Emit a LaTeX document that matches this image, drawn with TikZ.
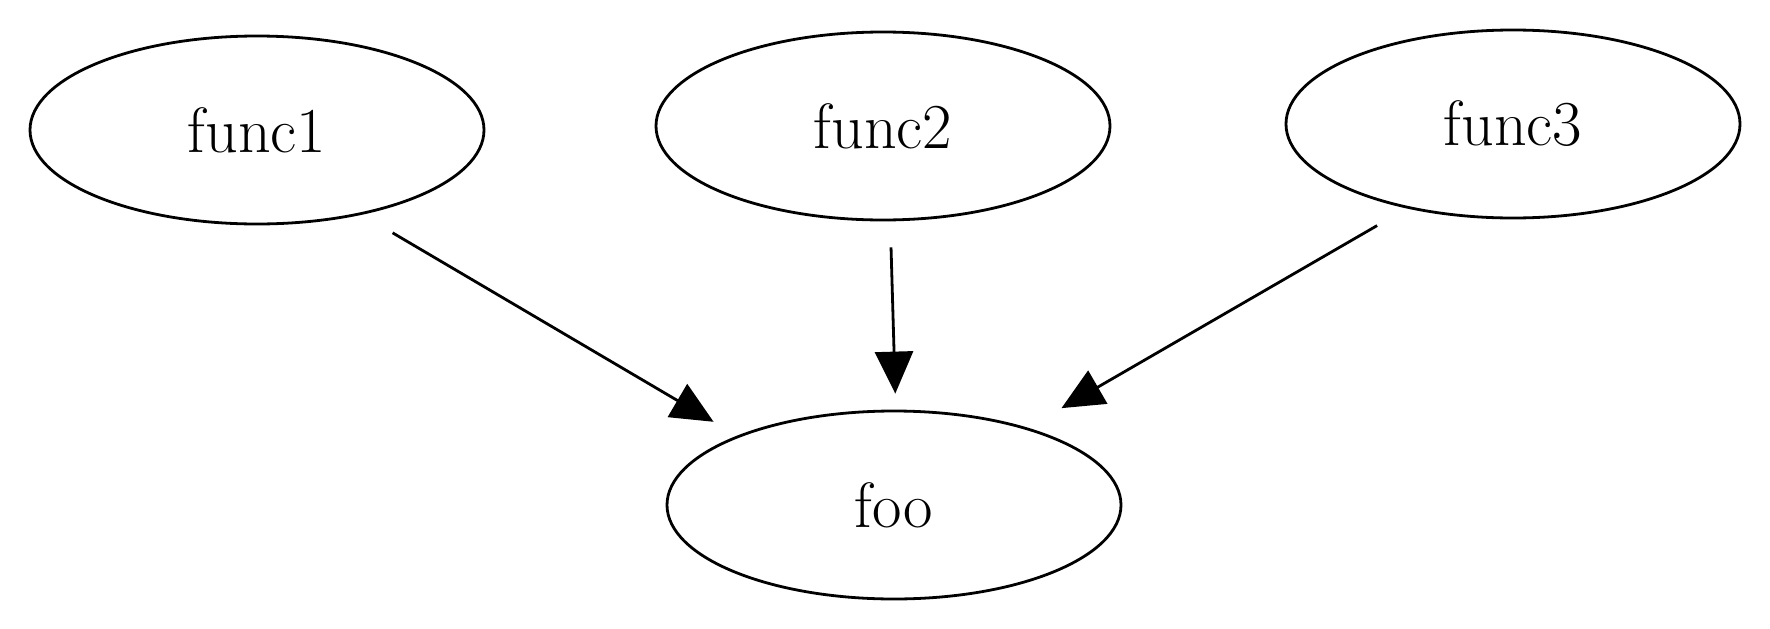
\documentclass[tikz,border=0pt]{standalone}
\usetikzlibrary{shapes.geometric,arrows.meta,calc}
\begin{document}
\begin{tikzpicture}[x=1pt,y=-1pt,
  fn/.style={ellipse,draw,line width=2.8pt,minimum width=454pt,minimum height=188pt,inner sep=0pt,font=\fontsize{64}{66}\selectfont},
  conn/.style={line width=2.8pt,-{Triangle[length=42pt,width=38pt]}}]
\useasboundingbox (0,0) rectangle (1770,629);
\node[fn] (f1) at (257,130) {func1};
\node[fn] (f2) at (883,126) {func2};
\node[fn] (f3) at (1513,124) {func3};
\node[fn] (foo) at (894,505) {foo};
\draw[conn,transform canvas={yshift=-23pt},shorten <=4pt,shorten >=56pt] (f1) -- (foo);
\draw[conn,transform canvas={xshift=4.5pt},shorten <=26pt,shorten >=16pt] (f2) -- (foo);
\draw[conn,shorten <=157pt,shorten >=39pt] ($(f3.center)+(0,23)$) -- (foo);
\end{tikzpicture}
\end{document}
